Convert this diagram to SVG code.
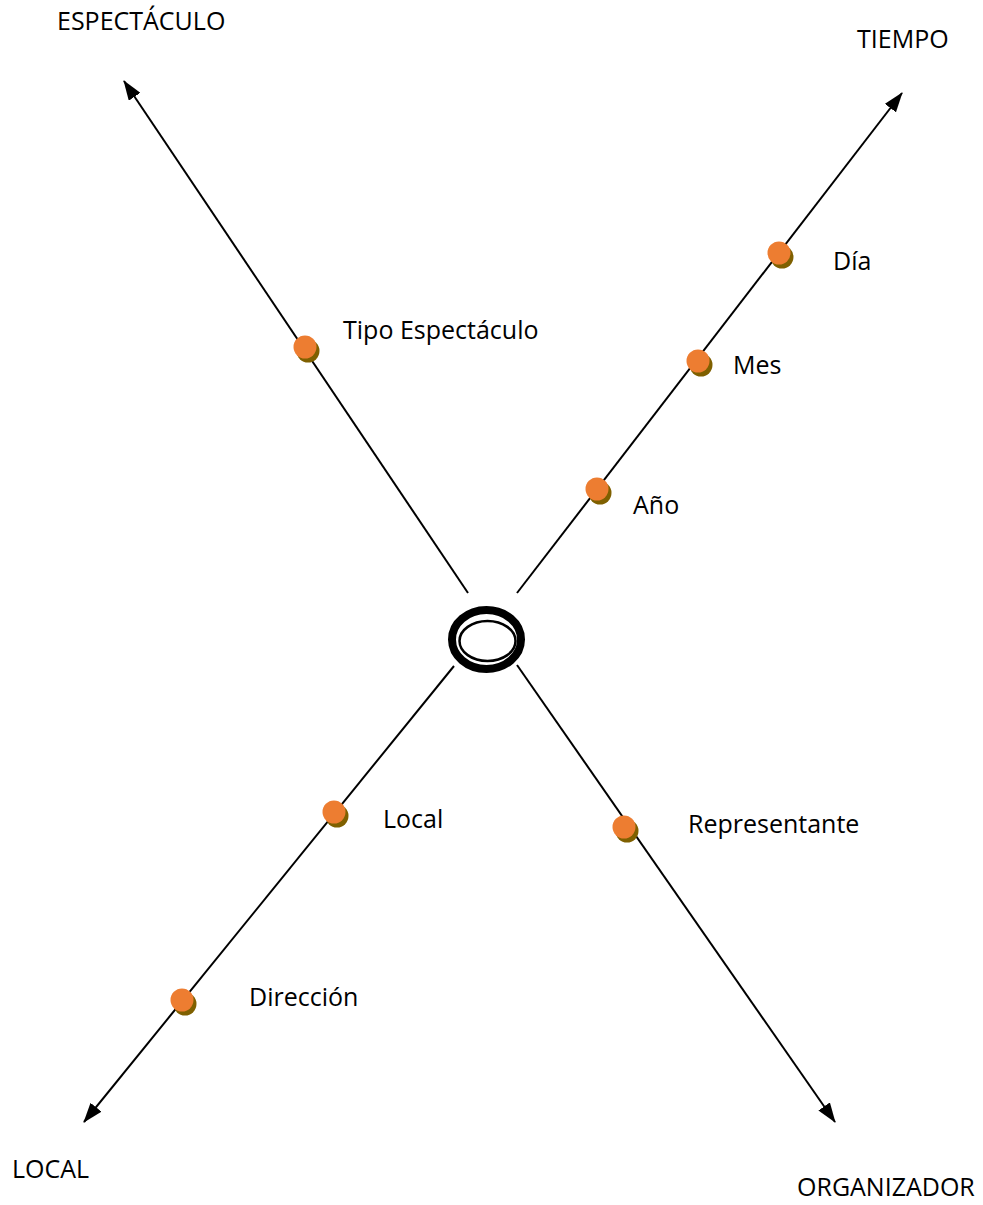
<svg xmlns="http://www.w3.org/2000/svg" width="983" height="1205" viewBox="0 0 983 1205">
<defs>
<style>
.ax{stroke:#000;stroke-width:2;fill:none}
.lbl{font-family:"Open Sans","Liberation Sans",sans-serif;font-size:25px;fill:#000}
.dot{fill:#ED7D31}
.sh{fill:#7F6000}
</style>
<marker id="arr" viewBox="0 0 20 14" refX="19" refY="7" markerWidth="20" markerHeight="14" markerUnits="userSpaceOnUse" orient="auto">
<path d="M0,0 L20,7 L0,14 Z" fill="#000"/>
</marker>
</defs>
<rect width="983" height="1205" fill="#fff"/>
<g id="connectors">
<line class="ax" x1="468" y1="593" x2="124" y2="81" marker-end="url(#arr)"/>
<line class="ax" x1="517" y1="593" x2="902" y2="93" marker-end="url(#arr)"/>
<line class="ax" x1="454" y1="666" x2="84" y2="1122" marker-end="url(#arr)"/>
<line class="ax" x1="517" y1="665" x2="835" y2="1122" marker-end="url(#arr)"/>
</g>
<g id="center">
<ellipse cx="486.5" cy="639.5" rx="34.5" ry="29.5" fill="#fff" stroke="#000" stroke-width="8"/>
<ellipse cx="487.5" cy="641" rx="28" ry="20" fill="#fff" stroke="#000" stroke-width="2.5"/>
</g>
<g id="axis-espectaculo"><text class="lbl" x="57" y="30">ESPECTÁCULO</text></g>
<g id="axis-tiempo"><text class="lbl" x="857" y="48">TIEMPO</text></g>
<g id="axis-local"><text class="lbl" x="12" y="1178">LOCAL</text></g>
<g id="axis-organizador"><text class="lbl" x="797" y="1196">ORGANIZADOR</text></g>
<g id="tipo-espectaculo">
<circle class="sh" cx="308" cy="351" r="11.5"/><circle class="dot" cx="305" cy="347" r="11.5"/>
<text class="lbl" x="343" y="339">Tipo Espectáculo</text>
</g>
<g id="dia">
<circle class="sh" cx="782" cy="257" r="11.5"/><circle class="dot" cx="779" cy="253" r="11.5"/>
<text class="lbl" x="833" y="270">Día</text>
</g>
<g id="mes">
<circle class="sh" cx="701" cy="365" r="11.5"/><circle class="dot" cx="698" cy="361" r="11.5"/>
<text class="lbl" x="733" y="374">Mes</text>
</g>
<g id="anio">
<circle class="sh" cx="600" cy="493" r="11.5"/><circle class="dot" cx="597" cy="489" r="11.5"/>
<text class="lbl" x="633" y="514">Año</text>
</g>
<g id="local">
<circle class="sh" cx="337" cy="816" r="11.5"/><circle class="dot" cx="334" cy="812" r="11.5"/>
<text class="lbl" x="383" y="828">Local</text>
</g>
<g id="direccion">
<circle class="sh" cx="185" cy="1004" r="11.5"/><circle class="dot" cx="182" cy="1000" r="11.5"/>
<text class="lbl" x="249" y="1006">Dirección</text>
</g>
<g id="representante">
<circle class="sh" cx="627" cy="831" r="11.5"/><circle class="dot" cx="624" cy="827" r="11.5"/>
<text class="lbl" x="688" y="833">Representante</text>
</g>
</svg>
